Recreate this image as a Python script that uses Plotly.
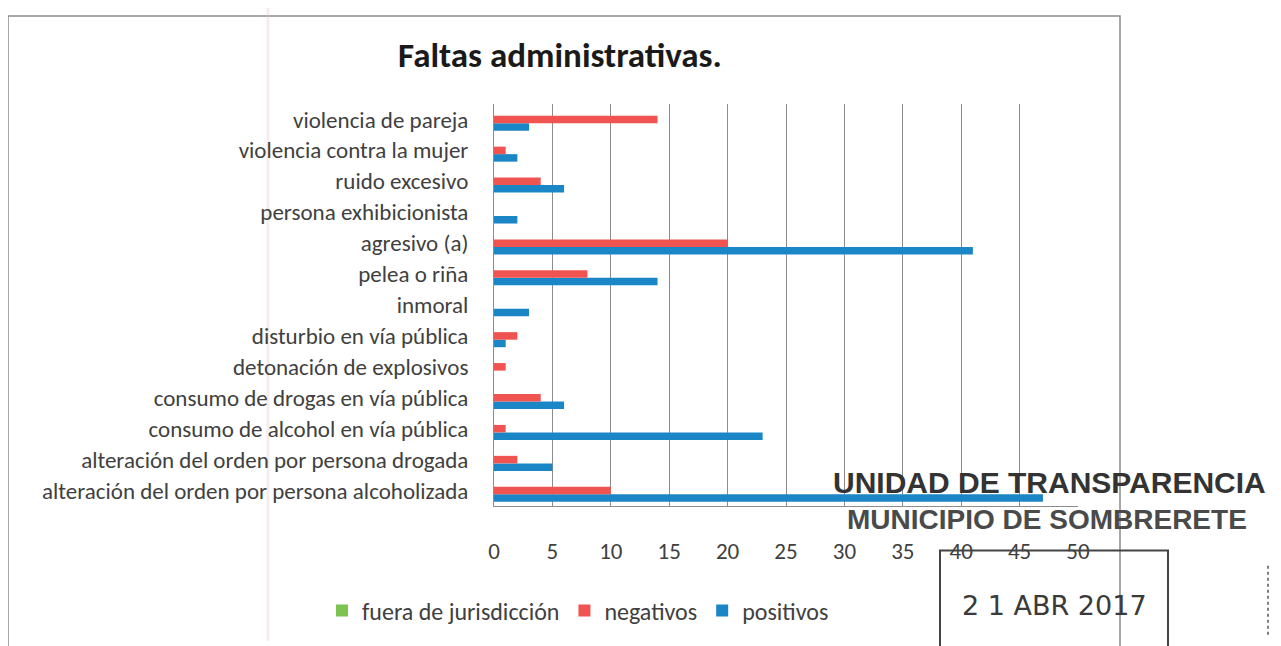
import plotly.graph_objects as go

categorias = [
    "alteración del orden por persona alcoholizada",
    "alteración del orden por persona drogada",
    "consumo de alcohol en vía pública",
    "consumo de drogas en vía pública",
    "detonación de explosivos",
    "disturbio en vía pública",
    "inmoral",
    "pelea o riña",
    "agresivo (a)",
    "persona exhibicionista",
    "ruido excesivo",
    "violencia contra la mujer",
    "violencia de pareja",
]
positivos = [47, 5, 23, 6, 0, 1, 3, 14, 41, 2, 6, 2, 3]
negativos = [10, 2, 1, 4, 1, 2, 0, 8, 20, 0, 4, 1, 14]
fuera_de_jurisdiccion = [0, 0, 0, 0, 0, 0, 0, 0, 0, 0, 0, 0, 0]
x_ticks = [0, 5, 10, 15, 20, 25, 30, 35, 40, 45, 50]

FONT = "Carlito, Lato, sans-serif"
OFF = 8  # default page body margin
W, H = 1281 - OFF, 646 - OFF
L, R, T, B = 494 - OFF, 1078 - OFF, 104 - OFF, 510 - OFF

def px(x):
    return (x - OFF - L) / (R - L)

def py(y):
    return (B - (y - OFF)) / (B - T)

fig = go.Figure()
fig.add_trace(go.Bar(y=categorias, x=positivos, name="positivos", orientation="h",
                     marker=dict(color="#1b86c6", line_width=0), legendrank=3))
fig.add_trace(go.Bar(y=categorias, x=negativos, name="negativos", orientation="h",
                     marker=dict(color="#f05450", line_width=0), legendrank=2))
fig.add_trace(go.Bar(y=categorias, x=fuera_de_jurisdiccion, name="fuera de jurisdicción", orientation="h",
                     marker=dict(color="#7cc352", line_width=0), legendrank=1))

shapes = [
    dict(type="rect", xref="paper", yref="paper", x0=px(8), x1=px(1120), y0=py(660), y1=py(15),
         line=dict(color="#8a8a8a", width=1.5), layer="below"),
    dict(type="line", xref="paper", yref="paper", x0=px(268), x1=px(268), y0=py(646), y1=py(0),
         line=dict(color="rgba(225,200,200,0.35)", width=3), layer="below"),
    dict(type="rect", xref="paper", yref="paper", x0=px(940), x1=px(1168), y0=py(670), y1=py(555),
         line=dict(color="#444444", width=2), layer="above"),
    dict(type="line", xref="paper", yref="paper", x0=px(1268), x1=px(1268), y0=py(640), y1=py(570),
         line=dict(color="#555555", width=1.5, dash="dot"), layer="above"),
]

annotations = [
    dict(text="UNIDAD DE TRANSPARENCIA", xref="paper", yref="paper", x=px(1049), y=py(486),
         xanchor="center", yanchor="middle", showarrow=False,
         font=dict(family="Liberation Sans, Arial, sans-serif", size=30,
                   color="#333333", weight="bold")),
    dict(text="MUNICIPIO DE SOMBRERETE", xref="paper", yref="paper", x=px(1047), y=py(524),
         xanchor="center", yanchor="middle", showarrow=False,
         font=dict(family="Liberation Sans, Arial, sans-serif", size=28, color="#4a4a4a", weight="bold")),
    dict(text="2 1 ABR 2017", xref="paper", yref="paper", x=px(1054), y=py(610),
         xanchor="center", yanchor="middle", showarrow=False,
         font=dict(family="DejaVu Sans, sans-serif", size=27, color="#3a3a3a")),
]

fig.update_layout(
    width=W, height=H,
    margin=dict(l=L, r=W - R, t=T, b=H - B, pad=0),
    paper_bgcolor="white", plot_bgcolor="white",
    barmode="group", bargap=0.27, bargroupgap=0,
    title=dict(text="<b>Faltas administrativas.</b>", x=px(560), xref="paper", xanchor="center",
               y=1 - (55 - OFF) / H, yanchor="middle", font=dict(family=FONT, size=35, color="#1a1a1a")),
    font=dict(family=FONT, size=23, color="#404040"),
    showlegend=True,
    legend=dict(orientation="h", x=px(578), xanchor="center", y=py(616), yanchor="middle",
                font=dict(family=FONT, size=24, color="#404040"), traceorder="normal",
                itemwidth=30, bgcolor="rgba(0,0,0,0)"),
    shapes=shapes,
    annotations=annotations,
)
fig.update_xaxes(range=[0, 50], tickvals=x_ticks, showgrid=True, gridcolor="#8c8c8c", gridwidth=1,
                 zeroline=False, showline=True, linecolor="#8c8c8c", linewidth=1, mirror=False,
                 ticks="", ticklabelstandoff=24, tickfont=dict(family=FONT, size=23, color="#404040"))
fig.update_yaxes(type="category", categoryorder="array", categoryarray=categorias,
                 showgrid=False, zeroline=False, showline=True, linecolor="#8c8c8c", linewidth=1,
                 ticks="", ticklabelstandoff=20, tickfont=dict(family=FONT, size=23, color="#404040"))

fig.write_html("out.html")
